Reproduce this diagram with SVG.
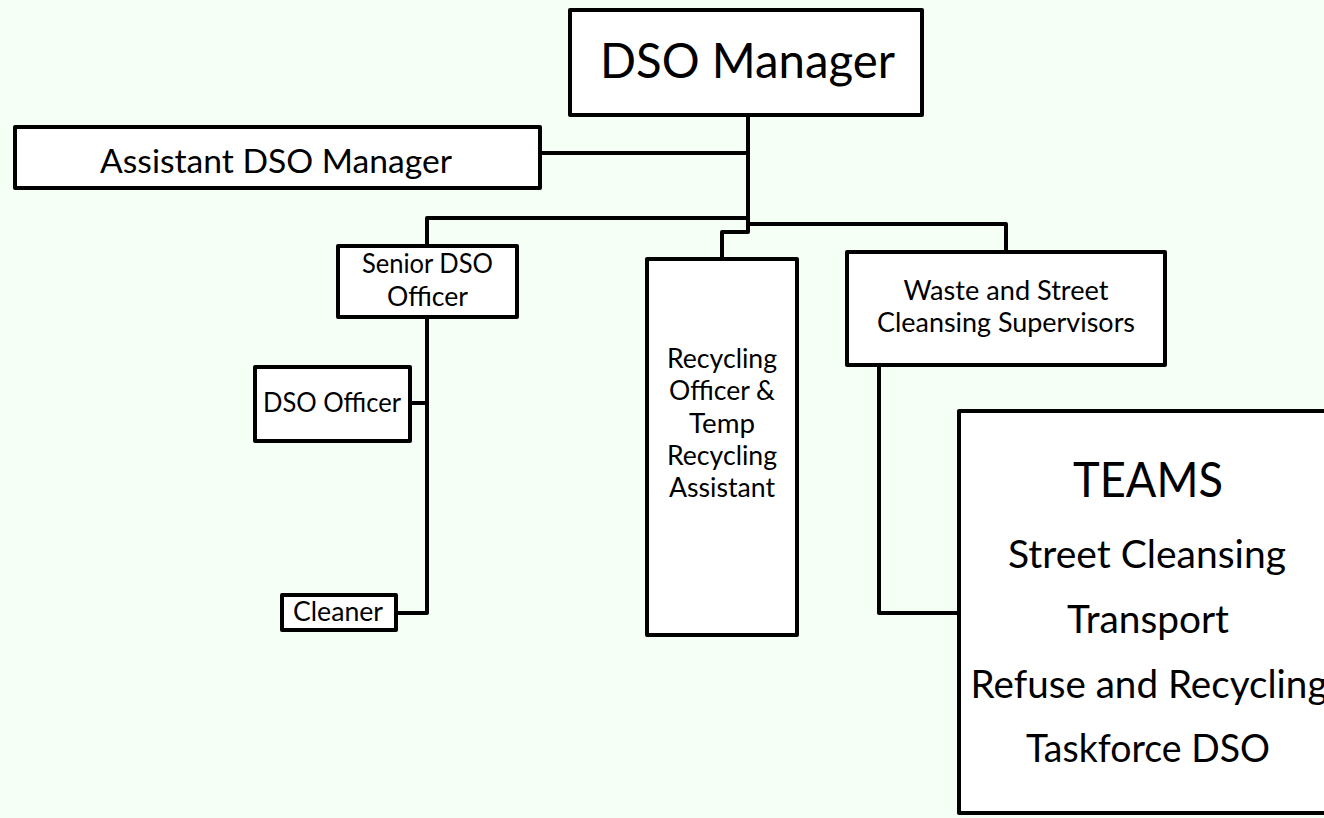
<svg xmlns="http://www.w3.org/2000/svg" width="1324" height="818" viewBox="0 0 1324 818">
<style>
.box{fill:#ffffff;stroke:#000000;stroke-width:4;stroke-linejoin:round}
.con{fill:none;stroke:#000000;stroke-width:4;stroke-linejoin:round}
text{font-family:Lato,"Open Sans","Liberation Sans",sans-serif;fill:#000000;text-anchor:middle}
.s{font-size:26px}
.m{font-size:33px}
.l{font-size:48px}
.t{font-size:38px}
</style>
<rect x="0" y="0" width="1324" height="818" fill="#F5FFF5"/>
<g id="connectors">
<path class="con" d="M748 116 V232 H722 V259"/>
<path class="con" d="M540 153 H748"/>
<path class="con" d="M427 246 V218 H748"/>
<path class="con" d="M748 224 H1006 V252"/>
<path class="con" d="M427 317 V613 H396"/>
<path class="con" d="M410 403 H427"/>
<path class="con" d="M879 365 V613 H959"/>
</g>
<g id="dso-manager">
<rect class="box" x="570" y="10" width="352" height="105"/>
<text class="l" x="747.5" y="78" textLength="295" lengthAdjust="spacingAndGlyphs">DSO Manager</text>
</g>
<g id="assistant-dso-manager">
<rect class="box" x="15" y="127" width="525" height="61"/>
<text class="m" x="276" y="173" textLength="352" lengthAdjust="spacingAndGlyphs">Assistant DSO Manager</text>
</g>
<g id="senior-dso-officer">
<rect class="box" x="338" y="246" width="179" height="71"/>
<text class="s" x="427.5" y="273" textLength="131" lengthAdjust="spacingAndGlyphs">Senior DSO</text>
<text class="s" x="427.5" y="306" textLength="81" lengthAdjust="spacingAndGlyphs">Officer</text>
</g>
<g id="dso-officer">
<rect class="box" x="255" y="367" width="155" height="74"/>
<text class="s" x="332" y="412" textLength="138" lengthAdjust="spacingAndGlyphs">DSO Officer</text>
</g>
<g id="cleaner">
<rect class="box" x="282" y="595" width="114" height="35"/>
<text class="s" x="338" y="621" textLength="90" lengthAdjust="spacingAndGlyphs">Cleaner</text>
</g>
<g id="recycling-officer">
<rect class="box" x="647" y="259" width="150" height="376"/>
<text class="s" x="722" y="368" textLength="110" lengthAdjust="spacingAndGlyphs">Recycling</text>
<text class="s" x="722" y="400" textLength="106" lengthAdjust="spacingAndGlyphs">Officer &amp;</text>
<text class="s" x="722" y="433" textLength="66" lengthAdjust="spacingAndGlyphs">Temp</text>
<text class="s" x="722" y="465" textLength="110" lengthAdjust="spacingAndGlyphs">Recycling</text>
<text class="s" x="722" y="497" textLength="106" lengthAdjust="spacingAndGlyphs">Assistant</text>
</g>
<g id="waste-supervisors">
<rect class="box" x="847" y="252" width="318" height="113"/>
<text class="s" x="1006" y="300" textLength="205" lengthAdjust="spacingAndGlyphs">Waste and Street</text>
<text class="s" x="1006" y="332" textLength="258" lengthAdjust="spacingAndGlyphs">Cleansing Supervisors</text>
</g>
<g id="teams">
<rect class="box" x="959" y="411" width="400" height="402"/>
<text class="l" x="1148" y="497" textLength="150" lengthAdjust="spacingAndGlyphs">TEAMS</text>
<text class="t" x="1147" y="568" textLength="278" lengthAdjust="spacingAndGlyphs">Street Cleansing</text>
<text class="t" x="1148" y="633" textLength="162" lengthAdjust="spacingAndGlyphs">Transport</text>
<text class="t" x="1149" y="698" textLength="357" lengthAdjust="spacingAndGlyphs">Refuse and Recycling</text>
<text class="t" x="1148" y="762" textLength="244" lengthAdjust="spacingAndGlyphs">Taskforce DSO</text>
</g>
</svg>
